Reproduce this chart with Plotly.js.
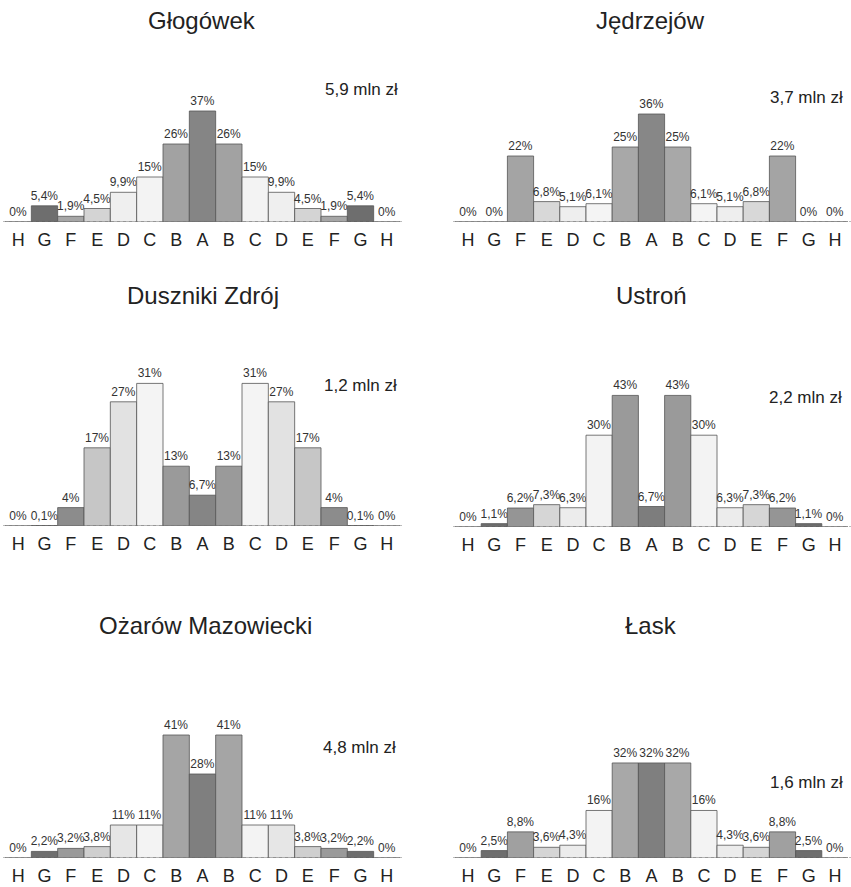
<!DOCTYPE html>
<html>
<head>
<meta charset="utf-8">
<script src="https://cdn.plot.ly/plotly-3.0.1.min.js"></script>
<style>
html,body{margin:0;padding:0;background:#fff;}
#chart{width:851px;height:887px;}
</style>
</head>
<body>
<div id="chart"></div>
<script>
// ---- data ----
var tickLabels = ["H","G","F","E","D","C","B","A","B","C","D","E","F","G","H"];
var positions = [0,1,2,3,4,5,6,7,8,9,10,11,12,13,14];

var towns = ["Głogówek","Jędrzejów","Duszniki Zdrój","Ustroń","Ożarów Mazowiecki","Łask"];
var amounts = ["5,9 mln zł","3,7 mln zł","1,2 mln zł","2,2 mln zł","4,8 mln zł","1,6 mln zł"];

var glogowek = [0,5.4,1.9,4.5,9.9,15,26,37,26,15,9.9,4.5,1.9,5.4,0];
var jedrzejow = [0,0,22,6.8,5.1,6.1,25,36,25,6.1,5.1,6.8,22,0,0];
var duszniki = [0,0.1,4,17,27,31,13,6.7,13,31,27,17,4,0.1,0];
var ustron = [0,1.1,6.2,7.3,6.3,30,43,6.7,43,30,6.3,7.3,6.2,1.1,0];
var ozarow = [0,2.2,3.2,3.8,11,11,41,28,41,11,11,3.8,3.2,2.2,0];
var lask = [0,2.5,8.8,3.6,4.3,16,32,32,32,16,4.3,3.6,8.8,2.5,0];

var series = [glogowek, jedrzejow, duszniki, ustron, ozarow, lask];

// ---- styles (per category position: H G F E D C B A B C D E F G H) ----
function sym(h,g,f,e,d,c,b,a){return [h,g,f,e,d,c,b,a,b,c,d,e,f,g,h];}
var colors = [
  sym("#6a6a6a","#6e6e6e","#a6a6a6","#d4d4d4","#efefef","#f3f3f3","#a2a2a2","#858585"),
  sym("#6a6a6a","#6e6e6e","#a4a4a4","#d8d8d8","#eeeeee","#f4f4f4","#a8a8a8","#878787"),
  sym("#6a6a6a","#6e6e6e","#8c8c8c","#c6c6c6","#e2e2e2","#f4f4f4","#9a9a9a","#858585"),
  sym("#6a6a6a","#6e6e6e","#959595","#d6d6d6","#ececec","#f3f3f3","#9a9a9a","#7d7d7d"),
  sym("#6a6a6a","#6e6e6e","#9a9a9a","#cfcfcf","#e6e6e6","#f3f3f3","#a5a5a5","#7f7f7f"),
  sym("#6a6a6a","#6e6e6e","#a0a0a0","#d5d5d5","#ececec","#f3f3f3","#a8a8a8","#7f7f7f")
];

// panel geometry in pixels: left, right, baseline, top, px per percent
var W = 851, H = 887;
var panels = [
  {l:5,   r:400, base:222, top:60,  ppp:3.0},
  {l:455, r:848, base:222, top:60,  ppp:3.0},
  {l:5,   r:400, base:526, top:340, ppp:4.6},
  {l:455, r:848, base:527, top:340, ppp:3.06},
  {l:5,   r:400, base:858, top:680, ppp:3.0},
  {l:455, r:848, base:858, top:680, ppp:2.97}
];
var titlePos = [[202,21],[650,21],[203,296],[651,296],[205,625],[651,625]];
var amountPos = [[361,89],[806,98],[360,386],[805,397],[359,747],[806,782]];

function fmt(v){return String(v).replace('.', ',') + '%';}

var traces = [];
var layout = {
  width: W, height: H,
  margin: {l:0, r:0, t:0, b:0},
  paper_bgcolor: "#ffffff",
  plot_bgcolor: "rgba(0,0,0,0)",
  showlegend: false,
  bargap: 0,
  font: {family: "Liberation Sans, Arial, sans-serif", color: "#222"},
  annotations: [],
  shapes: []
};

for (var i = 0; i < 6; i++) {
  var p = panels[i];
  var sfx = i === 0 ? "" : String(i+1);
  traces.push({
    type: "bar",
    x: positions,
    y: series[i],
    xaxis: "x" + sfx,
    yaxis: "y" + sfx,
    width: 1,
    marker: {color: colors[i], line: {color: "#555", width: 0.8}},
    text: series[i].map(fmt),
    textposition: "outside",
    textangle: 0,
    constraintext: "none",
    cliponaxis: false,
    textfont: {size: 12, color: "#333", family: "Liberation Sans, Arial, sans-serif"},
    hoverinfo: "none"
  });
  var yTop = (p.base - p.top) / p.ppp;
  layout["xaxis" + sfx] = {
    domain: [p.l / W, p.r / W],
    anchor: "y" + sfx,
    range: [-0.5, 14.5],
    tickvals: positions,
    ticktext: tickLabels,
    ticks: "outside", ticklen: 1, tickcolor: "rgba(0,0,0,0)",
    tickfont: {size: 18, color: "#222"},
    showgrid: false, zeroline: false, showline: false,
    fixedrange: true
  };
  layout["yaxis" + sfx] = {
    domain: [1 - p.base / H, 1 - p.top / H],
    anchor: "x" + sfx,
    range: [0, yTop],
    visible: false,
    fixedrange: true
  };
  layout.shapes.push({
    type: "line", xref: "x" + sfx + " domain", yref: "y" + sfx,
    x0: -0.005, x1: 1.01, y0: 0, y1: 0,
    line: {color: "#777", width: 1, dash: "dot"}
  });
  layout.annotations.push({
    text: towns[i], xref: "paper", yref: "paper",
    x: titlePos[i][0] / W, y: 1 - titlePos[i][1] / H,
    xanchor: "center", yanchor: "middle", showarrow: false,
    font: {size: 24, color: "#222"}
  });
  layout.annotations.push({
    text: amounts[i], xref: "paper", yref: "paper",
    x: amountPos[i][0] / W, y: 1 - amountPos[i][1] / H,
    xanchor: "center", yanchor: "middle", showarrow: false,
    font: {size: 17, color: "#222"}
  });
}

Plotly.newPlot("chart", traces, layout, {displayModeBar: false, staticPlot: true});
</script>
</body>
</html>
